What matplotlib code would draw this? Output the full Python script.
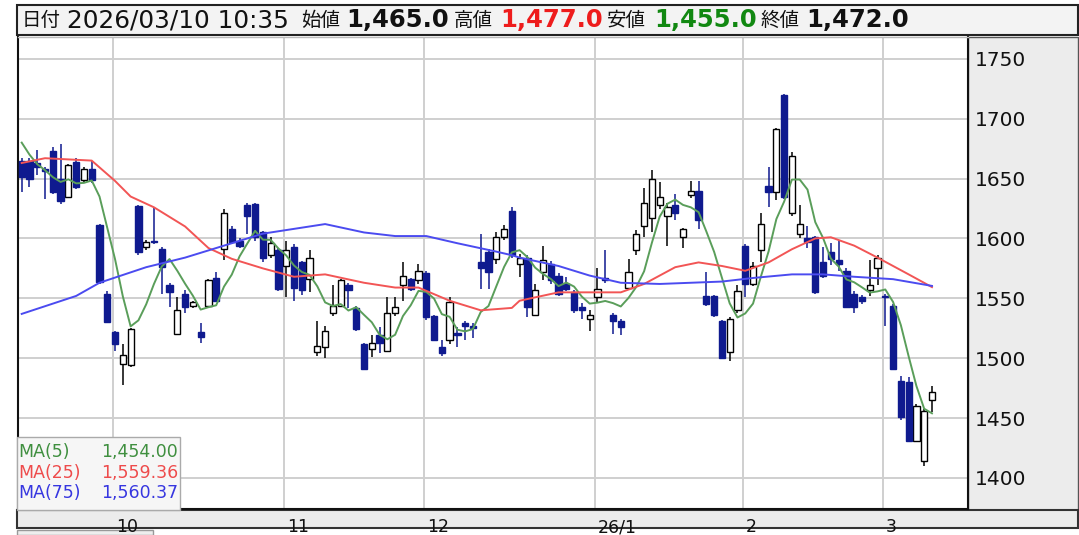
import matplotlib
matplotlib.use("Agg")
import matplotlib.pyplot as plt
from matplotlib.patches import Rectangle
import numpy as np
import pandas as pd

plt.rcParams['font.family'] = ['DejaVu Sans', 'Noto Sans CJK JP']

# 日足データ (2025/9 中旬 ～ 2026/3/10)
opens = [1665, 1665, 1663, 1658, 1673, 1650, 1635, 1664, 1649, 1658,
         1611, 1554, 1522, 1495, 1494, 1627, 1593, 1598, 1591, 1561,
         1520, 1554, 1544, 1522, 1544, 1567, 1591, 1608, 1598, 1628,
         1629, 1605, 1586, 1590, 1577, 1593, 1580, 1566, 1505, 1509,
         1538, 1544, 1561, 1542, 1512, 1508, 1519, 1506, 1538, 1561,
         1566, 1565, 1571, 1535, 1509, 1515, 1521, 1529, 1527, 1580,
         1589, 1583, 1601, 1623, 1579, 1584, 1536, 1572, 1579, 1569,
         1562, 1555, 1543, 1533, 1551, 1567, 1536, 1531, 1559, 1590,
         1610, 1617, 1628, 1619, 1628, 1601, 1636, 1640, 1552, 1552,
         1531, 1505, 1540, 1594, 1562, 1590, 1644, 1639, 1720, 1621,
         1604, 1600, 1601, 1580, 1589, 1582, 1573, 1554, 1551, 1557,
         1575, 1552, 1544, 1481, 1480, 1431, 1414, 1465]
highs = [1667, 1667, 1674, 1660, 1676, 1679, 1662, 1667, 1660, 1665,
         1612, 1556, 1523, 1512, 1525, 1628, 1599, 1626, 1593, 1563,
         1551, 1557, 1548, 1529, 1566, 1572, 1625, 1610, 1600, 1630,
         1630, 1606, 1601, 1592, 1598, 1595, 1581, 1590, 1531, 1527,
         1561, 1566, 1563, 1544, 1513, 1519, 1526, 1551, 1551, 1580,
         1567, 1579, 1573, 1536, 1515, 1551, 1526, 1531, 1529, 1604,
         1591, 1605, 1611, 1626, 1587, 1586, 1562, 1594, 1581, 1571,
         1568, 1557, 1546, 1540, 1575, 1590, 1538, 1533, 1583, 1607,
         1642, 1657, 1647, 1630, 1637, 1609, 1648, 1648, 1572, 1553,
         1532, 1534, 1561, 1595, 1580, 1621, 1660, 1692, 1721, 1672,
         1628, 1610, 1602, 1593, 1596, 1598, 1575, 1556, 1553, 1582,
         1586, 1554, 1545, 1485, 1484, 1462, 1458, 1477]
lows = [1639, 1643, 1653, 1633, 1637, 1629, 1634, 1641, 1647, 1646,
        1562, 1529, 1506, 1478, 1493, 1586, 1590, 1595, 1554, 1543,
        1519, 1538, 1542, 1513, 1543, 1547, 1582, 1595, 1592, 1604,
        1598, 1580, 1584, 1556, 1551, 1548, 1553, 1555, 1502, 1500,
        1535, 1543, 1542, 1523, 1490, 1501, 1504, 1505, 1535, 1548,
        1556, 1562, 1532, 1514, 1502, 1512, 1509, 1515, 1517, 1558,
        1558, 1579, 1599, 1584, 1568, 1534, 1535, 1565, 1562, 1552,
        1556, 1538, 1533, 1523, 1547, 1563, 1520, 1519, 1557, 1586,
        1601, 1605, 1625, 1594, 1615, 1592, 1634, 1608, 1544, 1534,
        1499, 1498, 1538, 1551, 1560, 1580, 1626, 1632, 1633, 1619,
        1600, 1592, 1554, 1567, 1578, 1573, 1542, 1538, 1545, 1552,
        1561, 1527, 1490, 1448, 1430, 1430, 1410, 1455]
closes = [1651, 1650, 1660, 1656, 1639, 1631, 1661, 1643, 1658, 1649,
          1564, 1530, 1512, 1503, 1524, 1589, 1597, 1597, 1576, 1555,
          1540, 1543, 1547, 1518, 1565, 1548, 1621, 1597, 1594, 1619,
          1601, 1584, 1596, 1558, 1590, 1559, 1557, 1584, 1510, 1523,
          1544, 1565, 1557, 1524, 1491, 1513, 1513, 1538, 1543, 1569,
          1558, 1573, 1534, 1515, 1504, 1547, 1519, 1527, 1525, 1575,
          1572, 1601, 1608, 1586, 1584, 1543, 1557, 1582, 1565, 1554,
          1558, 1540, 1540, 1536, 1558, 1565, 1531, 1526, 1572, 1604,
          1630, 1650, 1635, 1626, 1621, 1608, 1640, 1615, 1545, 1536,
          1500, 1533, 1556, 1562, 1577, 1612, 1639, 1691, 1635, 1669,
          1612, 1597, 1555, 1569, 1583, 1579, 1543, 1543, 1548, 1561,
          1584, 1551, 1491, 1451, 1431, 1460, 1456, 1472]

# 移動平均線
ma5_head = [1680, 1670, 1662, 1657]
ma25_idx = [0, 3, 9, 12, 14, 17, 21, 24, 27, 31, 35, 39, 44, 48, 51, 55, 59,
            63, 64, 69, 73, 77, 80, 84, 87, 90, 93, 96, 99, 102, 104, 107,
            110, 114, 117]
ma25_val = [1663, 1667, 1665, 1648, 1635, 1626, 1610, 1592, 1583, 1575, 1568,
            1570, 1563, 1559, 1559, 1548, 1540, 1542, 1548, 1555, 1555, 1555,
            1562, 1576, 1580, 1577, 1573, 1580, 1591, 1600, 1601, 1594, 1584,
            1570, 1559.36]
ma75_idx = [0, 7, 10, 16, 21, 26, 31, 35, 39, 44, 48, 52, 56, 61, 63, 64, 69,
            73, 77, 82, 86, 90, 94, 99, 103, 107, 112, 117]
ma75_val = [1537, 1552, 1563, 1576, 1584, 1594, 1604, 1608, 1612, 1605, 1602,
            1602, 1596, 1589, 1586, 1584, 1577, 1569, 1563, 1562, 1563, 1564,
            1567, 1570, 1570, 1568, 1566, 1560.37]

month_start = [12, 34, 52, 74, 93, 111]
month_labels = ["10", "11", "12", "26/1", "2", "3"]
yticks = [1400, 1450, 1500, 1550, 1600, 1650, 1700, 1750]

W, H = 1079, 535
fig = plt.figure(figsize=(W / 100, H / 100), dpi=100)
fig.patch.set_facecolor("white")


def fx(px):
    return px / W


def fy(py):
    return 1 - py / H


def panel(x0, y0, x1, y1, fc, ec, lw):
    fig.patches.append(Rectangle((fx(x0), fy(y1)), fx(x1) - fx(x0), fy(y0) - fy(y1),
                                 transform=fig.transFigure, facecolor=fc,
                                 edgecolor=ec, lw=lw, zorder=-5))


# 背景パネル
panel(968, 37, 1078, 510, "#ececec", "#555555", 1.0)
panel(17, 510, 1078, 528, "#ececec", "#333333", 1.5)
panel(17, 530, 153, 535, "#eeeeee", "#999999", 1.0)
panel(17, 5, 1078, 35, "#f3f3f3", "#222222", 1.5)

ax = fig.add_axes([fx(18), fy(509), fx(968) - fx(18), fy(37) - fy(509)])
ax.set_facecolor("white")

x = np.arange(len(closes))
o = np.array(opens, float)
c = np.array(closes, float)
h = np.array(highs, float)
l = np.array(lows, float)
up = c >= o

navy = "#0f1a8f"
wick_col = np.where(up, "black", navy)
ax.vlines(x, l, h, colors=wick_col, lw=1.1, zorder=2)
body_h = np.maximum(np.abs(c - o), 0.8)
body_b = np.minimum(o, c)
ax.bar(x[up], body_h[up], bottom=body_b[up], width=0.8, facecolor="white",
       edgecolor="black", lw=1.0, zorder=3)
ax.bar(x[~up], body_h[~up], bottom=body_b[~up], width=0.8, facecolor=navy,
       edgecolor=navy, lw=1.0, zorder=3)

# 移動平均
s = pd.Series(closes, dtype=float)
ma5 = s.rolling(5).mean()
ma5.iloc[:4] = ma5_head
ax.plot(x, ma5, color="#5a9e5a", lw=1.4, zorder=4)
ax.plot(ma25_idx, ma25_val, color="#f25555", lw=1.4, zorder=4)
ax.plot(ma75_idx, ma75_val, color="#4b4bf0", lw=1.4, zorder=4)

ax.set_xlim(-0.476, 121.63)
ax.set_ylim(1374.1, 1768.2)

grid_x = [m - 0.25 for m in month_start]
for gx in grid_x:
    ax.axvline(gx, color="#cfcfcf", lw=1.4, zorder=1)
for yt in yticks:
    ax.axhline(yt, color="#cfcfcf", lw=1.4, zorder=1)

ax.set_xticks([])
ax.yaxis.tick_right()
ax.set_yticks(yticks)
ax.set_yticklabels([str(v) for v in yticks])
ax.tick_params(axis="y", length=0, pad=5, labelsize=14.5, labelcolor="#111111")
for lab in ax.get_yticklabels():
    lab.set_horizontalalignment("left")

for sp in ["left", "right", "bottom"]:
    ax.spines[sp].set_color("#111111")
    ax.spines[sp].set_linewidth(1.5)
ax.spines["top"].set_color("#bbbbbb")
ax.spines["top"].set_linewidth(1.0)

# 月ラベル
for gx, lab in zip(grid_x, month_labels):
    ax.text(gx + 0.35, -0.0195, lab, transform=ax.get_xaxis_transform(),
            ha="left", va="top", fontsize=12.5, color="#111111", clip_on=False)

# 凡例
ax.add_patch(Rectangle((fx(17), fy(510)), fx(180) - fx(17), fy(437) - fy(510),
                       transform=fig.transFigure, facecolor="#f6f6f6",
                       edgecolor="#aaaaaa", lw=1.0, zorder=6, clip_on=False))
legend_rows = [("MA(5)", ma5.iloc[-1], "#3f8f3f"),
               ("MA(25)", ma25_val[-1], "#ee4b4b"),
               ("MA(75)", ma75_val[-1], "#3636e0")]
for k, (name, val, col) in enumerate(legend_rows):
    yy = 452 + k * 20.5
    fig.text(fx(18), fy(yy), name, color=col, fontsize=12.5, ha="left",
             va="center", zorder=7)
    fig.text(fx(178), fy(yy), f"{val:,.2f}", color=col, fontsize=12.5,
             ha="right", va="center", zorder=7)

# ヘッダー文字
hy = fy(20)
fig.text(fx(22), hy, "日付", fontsize=14, va="center", color="#111111")
fig.text(fx(67), hy, "2026/03/10 10:35", fontsize=17.8, va="center", color="#111111")
fig.text(fx(301), hy, "始値", fontsize=14, va="center", color="#111111")
fig.text(fx(346), hy, "1,465.0", fontsize=17.5, fontweight="bold", va="center", color="#111111")
fig.text(fx(454), hy, "高値", fontsize=14, va="center", color="#111111")
fig.text(fx(500), hy, "1,477.0", fontsize=17.5, fontweight="bold", va="center", color="#ee1c1c")
fig.text(fx(607), hy, "安値", fontsize=14, va="center", color="#111111")
fig.text(fx(654), hy, "1,455.0", fontsize=17.5, fontweight="bold", va="center", color="#118811")
fig.text(fx(761), hy, "終値", fontsize=14, va="center", color="#111111")
fig.text(fx(806), hy, "1,472.0", fontsize=17.5, fontweight="bold", va="center", color="#111111")

fig.savefig("out.png", dpi=100)
